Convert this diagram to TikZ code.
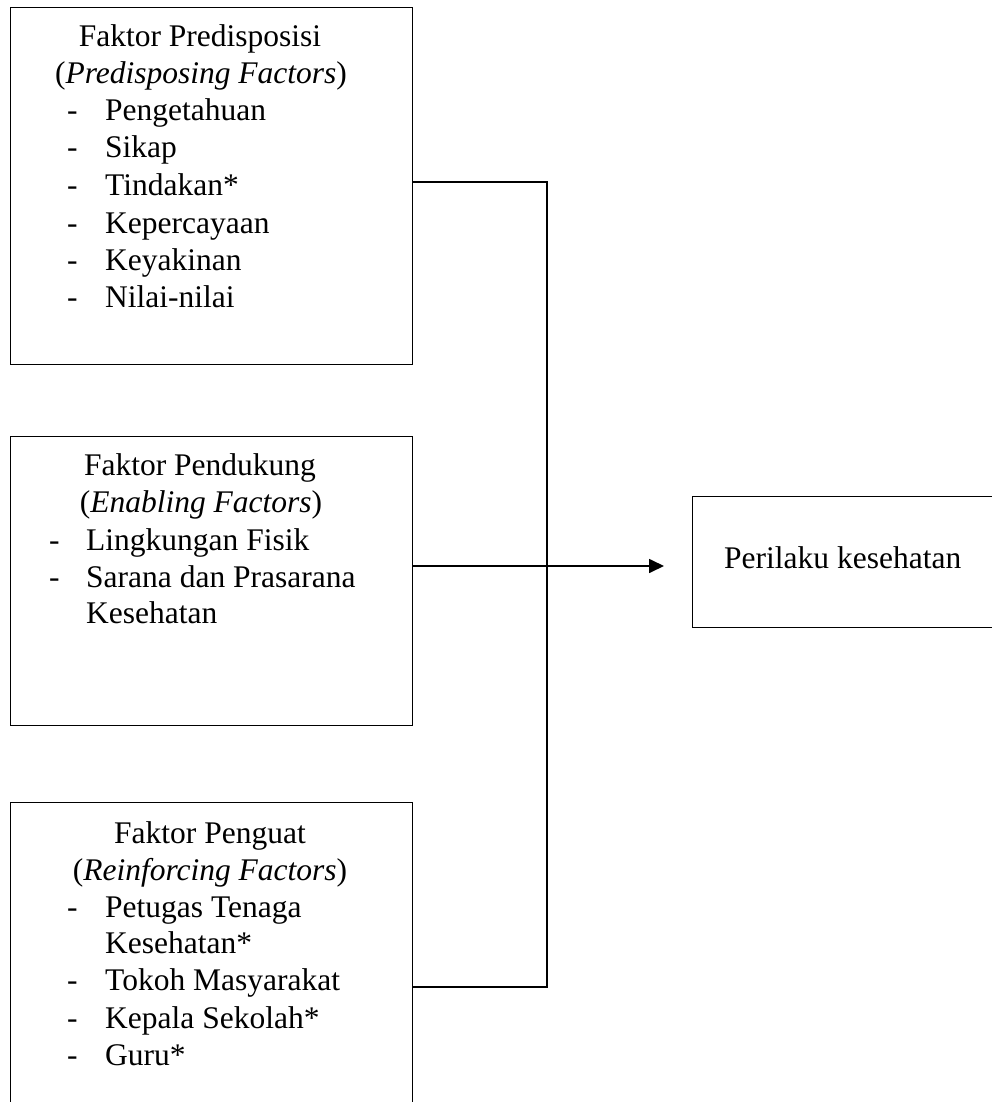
\documentclass[tikz,border=0pt]{standalone}
\usepackage{fontspec}
\setmainfont{Liberation Serif}
\usetikzlibrary{arrows.meta}
\begin{document}
\begin{tikzpicture}[x=1pt,y=-1pt,
  boxshape/.style={draw=black,line width=0.9pt,rectangle,inner sep=0pt,anchor=north west},
  conn/.style={draw=black,line width=1.7pt},
  txt/.style={inner sep=0pt,font=\fontsize{31.5}{37}\selectfont},
  ttl/.style={txt,anchor=base},
  itm/.style={txt,anchor=base west}]
\useasboundingbox (0,0) rectangle (992,1102);
\clip (0,0) rectangle (992,1102);
\fill[white] (0,0) rectangle (992,1102);
% boxes
\node[boxshape,minimum width=402pt,minimum height=357pt] (b1) at (10,7) {};
\node[boxshape,minimum width=402pt,minimum height=289pt] (b2) at (10,436) {};
\node[boxshape,minimum width=402pt,minimum height=320pt] (b3) at (10,802) {};
\node[boxshape,minimum width=320pt,minimum height=131pt] (b4) at (692,496) {};
% box 1 text
\node[ttl] (t1a) at (200,47) {Faktor Predisposisi};
\node[ttl] (t1b) at (201,84) {(\textit{Predisposing Factors})};
\foreach \yy/\tt [count=\i] in {121/Pengetahuan,158/Sikap,195/Tindakan*,233/Kepercayaan,270/Keyakinan,307/Nilai-nilai}{
  \node[itm] (d1\i) at (67,\yy) {-};
  \node[itm] (i1\i) at (105,\yy) {\tt};
}
% box 2 text
\node[ttl] (t2a) at (200,475) {Faktor Pendukung};
\node[ttl] (t2b) at (201,512) {(\textit{Enabling Factors})};
\node[itm] (d21) at (49,550) {-};
\node[itm] (i21) at (86,550) {Lingkungan Fisik};
\node[itm] (d22) at (49,587) {-};
\node[itm] (i22) at (86,587) {Sarana dan Prasarana};
\node[itm] (i23) at (86,623) {Kesehatan};
% box 3 text
\node[ttl] (t3a) at (210,843) {Faktor Penguat};
\node[ttl] (t3b) at (210,880) {(\textit{Reinforcing Factors})};
\node[itm] (d31) at (67,917) {-};
\node[itm] (i31) at (105,917) {Petugas Tenaga};
\node[itm] (i32) at (105,953) {Kesehatan*};
\node[itm] (d33) at (67,990) {-};
\node[itm] (i33) at (105,990) {Tokoh Masyarakat};
\node[itm] (d34) at (67,1028) {-};
\node[itm] (i34) at (105,1028) {Kepala Sekolah*};
\node[itm] (d35) at (67,1065) {-};
\node[itm] (i35) at (105,1065) {Guru*};
% box 4 text
\node[itm] (t4) at (724,568) {Perilaku kesehatan};
% connectors
\coordinate (j1) at (547,182);
\coordinate (j2) at (547,566);
\coordinate (j3) at (547,987);
\coordinate (tip) at (664,566);
\draw[conn,line join=miter] (b1.east |- j1) -- (j1) -- (j3) -- (b3.east |- j3);
\draw[conn,-{Triangle[length=15pt,width=14pt]}] (b2.east |- j2) -- (tip);
\end{tikzpicture}
\end{document}
